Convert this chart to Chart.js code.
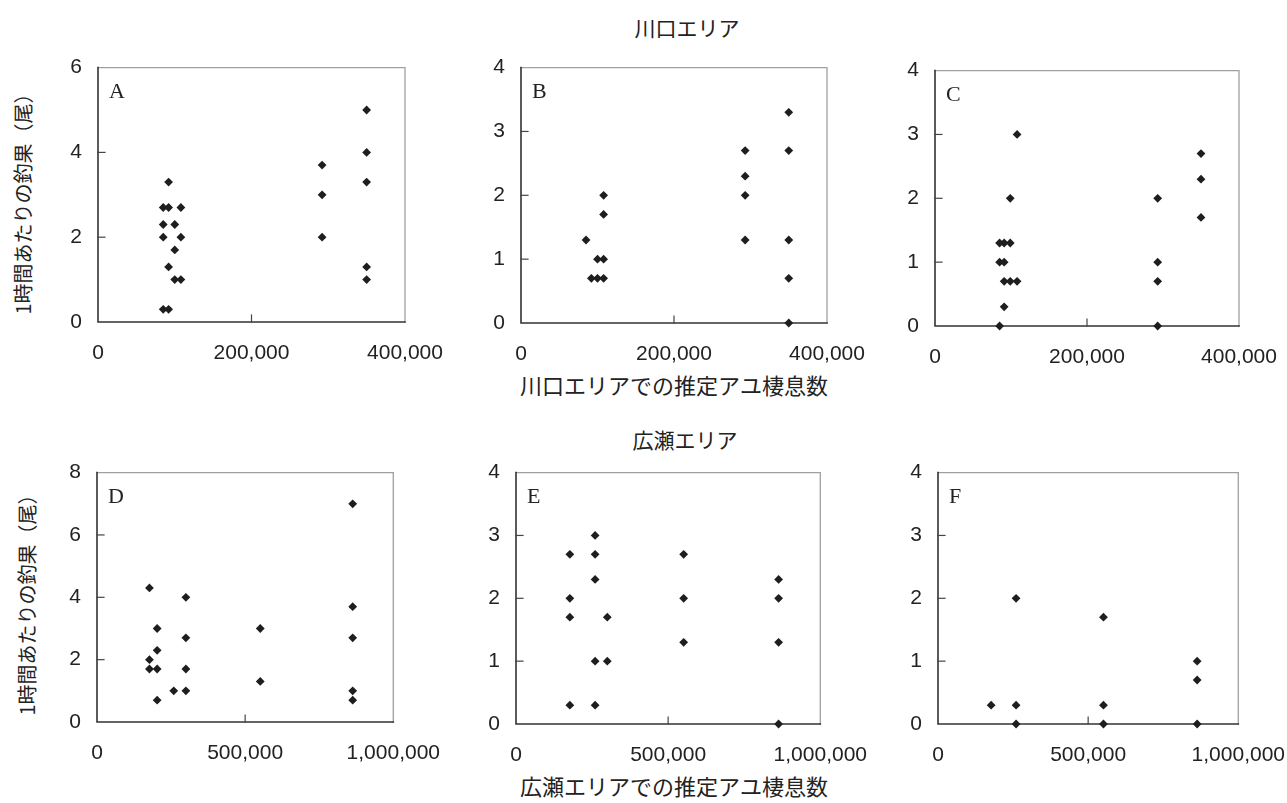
<!DOCTYPE html>
<html><head><meta charset="utf-8">
<script src="https://cdn.jsdelivr.net/npm/chart.js@4/dist/chart.umd.min.js"></script>
<style>
html,body{margin:0;padding:0;background:#fff;}
body{width:1287px;height:803px;position:relative;overflow:hidden;font-family:"Noto Sans CJK JP",sans-serif;color:#222;}
canvas{position:absolute;}
.t{position:absolute;white-space:nowrap;transform:translate(-50%,-50%);line-height:1;}
.yt{position:absolute;white-space:nowrap;transform:translate(-50%,-50%) rotate(-90deg);line-height:1;}
</style></head><body>
<div class="t" style="left:687px;top:27px;font-size:21px;">川口エリア</div>
<div class="t" style="left:685px;top:439px;font-size:21px;">広瀬エリア</div>
<div class="t" style="left:674px;top:384px;font-size:22px;">川口エリアでの推定アユ棲息数</div>
<div class="t" style="left:674px;top:785px;font-size:22px;">広瀬エリアでの推定アユ棲息数</div>
<div class="yt" style="left:23px;top:199px;font-size:20px;">1時間あたりの釣果（尾）</div>
<div class="yt" style="left:27px;top:600px;font-size:20px;">1時間あたりの釣果（尾）</div>
<canvas id="cA"></canvas><canvas id="cB"></canvas><canvas id="cC"></canvas>
<canvas id="cD"></canvas><canvas id="cE"></canvas><canvas id="cF"></canvas>
<script>
// ---- data ----
const topXTicks = [0, 200000, 400000];
const botXTicks = [0, 500000, 1000000];

const aX = [85000,85000,85000,85000, 92000,92000,92000,92000, 100000,100000,100000, 108000,108000,108000, 292000,292000,292000, 350000,350000,350000,350000,350000];
const aY = [2.7,2.3,2.0,0.3, 3.3,2.7,1.3,0.3, 2.3,1.7,1.0, 2.7,2.0,1.0, 3.7,3.0,2.0, 5.0,4.0,3.3,1.3,1.0];

const bX = [85000, 92000, 100000,100000, 108000,108000,108000,108000, 293000,293000,293000,293000, 350000,350000,350000,350000,350000];
const bY = [1.3, 0.7, 1.0,0.7, 2.0,1.7,1.0,0.7, 2.7,2.3,2.0,1.3, 3.3,2.7,1.3,0.7,0];

const cX = [85000,85000,85000, 91000,91000,91000,91000, 99000,99000,99000, 108000,108000, 293000,293000,293000,293000, 350000,350000,350000];
const cY = [1.3,1.0,0, 1.3,1.0,0.7,0.3, 2.0,1.3,0.7, 3.0,0.7, 2.0,1.0,0.7,0, 2.7,2.3,1.7];

const dX = [177000,177000,177000, 203000,203000,203000,203000, 259000, 300000,300000,300000,300000, 551000,551000, 863000,863000,863000,863000,863000];
const dY = [4.3,2.0,1.7, 3.0,2.3,1.7,0.7, 1.0, 4.0,2.7,1.7,1.0, 3.0,1.3, 7.0,3.7,2.7,1.0,0.7];

const eX = [177000,177000,177000,177000, 260000,260000,260000,260000,260000, 300000,300000, 551000,551000,551000, 863000,863000,863000,863000];
const eY = [2.7,2.0,1.7,0.3, 3.0,2.7,2.3,1.0,0.3, 1.7,1.0, 2.7,2.0,1.3, 2.3,2.0,1.3,0];

const fX = [177000, 260000,260000,260000, 551000,551000,551000, 863000,863000,863000];
const fY = [0.3, 2.0,0.3,0, 1.7,0.3,0, 1.0,0.7,0];

// ---- panels ----
const panels = [
  {id:'cA', L:'A', xs:aX, ys:aY, xMax:400000, yMax:6, yStep:2, area:[98,59,405,322]},
  {id:'cB', L:'B', xs:bX, ys:bY, xMax:400000, yMax:4, yStep:1, area:[521,59,827,323]},
  {id:'cC', L:'C', xs:cX, ys:cY, xMax:400000, yMax:4, yStep:1, area:[935,62,1239,326]},
  {id:'cD', L:'D', xs:dX, ys:dY, xMax:1000000, yMax:8, yStep:2, area:[97,464,399,722]},
  {id:'cE', L:'E', xs:eX, ys:eY, xMax:1000000, yMax:4, yStep:1, area:[516,464,826,724]},
  {id:'cF', L:'F', xs:fX, ys:fY, xMax:1000000, yMax:4, yStep:1, area:[938,464,1244,724]}
];

const PADL = 70, PADT = 20, PADR = 60, PADB = 50;

const framePlugin = {
  id: 'frame',
  beforeDatasetsDraw(chart, args, opts) {
    const {ctx, chartArea: a, scales} = chart;
    ctx.save();
    ctx.lineCap = 'square';
    ctx.strokeStyle = '#a0a0a0'; ctx.lineWidth = 1.3;
    ctx.beginPath();
    ctx.moveTo(a.left, a.top); ctx.lineTo(a.right, a.top); ctx.lineTo(a.right, a.bottom);
    ctx.stroke();
    ctx.strokeStyle = '#333'; ctx.lineWidth = 1.6;
    ctx.beginPath();
    ctx.moveTo(a.left, a.top); ctx.lineTo(a.left, a.bottom); ctx.lineTo(a.right, a.bottom);
    ctx.stroke();
    ctx.lineWidth = 1.2; ctx.strokeStyle = '#444';
    const ys = scales.y, xs = scales.x;
    ys.ticks.forEach((t) => {
      if (t.value <= ys.min || t.value >= ys.max) return;
      const y = ys.getPixelForValue(t.value);
      ctx.beginPath(); ctx.moveTo(a.left, y); ctx.lineTo(a.left + 7, y); ctx.stroke();
    });
    xs.ticks.forEach((t) => {
      if (t.value <= xs.min || t.value >= xs.max) return;
      const x = xs.getPixelForValue(t.value);
      ctx.beginPath(); ctx.moveTo(x, a.bottom); ctx.lineTo(x, a.bottom - 7); ctx.stroke();
    });
    ctx.fillStyle = '#222';
    ctx.font = '22px "Liberation Serif", serif';
    ctx.textBaseline = 'middle'; ctx.textAlign = 'left';
    ctx.fillText(opts.letter, a.left + 11, a.top + 25);
    ctx.restore();
  }
};

panels.forEach(p => {
  const [l, t, r, b] = p.area;
  const cv = document.getElementById(p.id);
  const w = (r - l) + PADL + PADR, h = (b - t) + PADT + PADB;
  cv.width = w; cv.height = h;
  cv.style.left = (l - PADL) + 'px'; cv.style.top = (t - PADT) + 'px';
  cv.style.width = w + 'px'; cv.style.height = h + 'px';
  const pts = p.xs.map((x, i) => ({x: x, y: p.ys[i]}));
  new Chart(cv, {
    type: 'scatter',
    data: { datasets: [{
      data: pts, pointStyle: 'rectRot', pointRadius: 4.4, pointHoverRadius: 4.4,
      backgroundColor: '#1e1e1e', borderColor: '#1e1e1e', borderWidth: 0, clip: false, showLine: false
    }]},
    options: {
      responsive: false, animation: false, devicePixelRatio: 1,
      layout: { padding: {left: 0, top: PADT, right: PADR, bottom: 0} },
      plugins: { legend: {display: false}, tooltip: {enabled: false}, frame: {letter: p.L} },
      events: [],
      scales: {
        x: {
          type: 'linear', min: 0, max: p.xMax,
          grid: {display: false, drawTicks: false}, border: {display: false},
          afterFit(s) { s.height = PADB; },
          afterBuildTicks(s) { s.ticks = (p.xMax === 400000 ? topXTicks : botXTicks).map(v => ({value: v})); },
          ticks: {
            padding: 19, color: '#222', maxRotation: 0, autoSkip: false,
            font: {family: '"Liberation Sans", Arial, sans-serif', size: 21},
            callback: v => v.toLocaleString('en-US')
          }
        },
        y: {
          type: 'linear', min: 0, max: p.yMax,
          grid: {display: false, drawTicks: false}, border: {display: false},
          afterFit(s) { s.width = PADL; },
          ticks: {
            stepSize: p.yStep, padding: 16, color: '#222',
            font: {family: '"Liberation Sans", Arial, sans-serif', size: 21}
          }
        }
      }
    },
    plugins: [framePlugin]
  });
});
</script>
</body></html>
